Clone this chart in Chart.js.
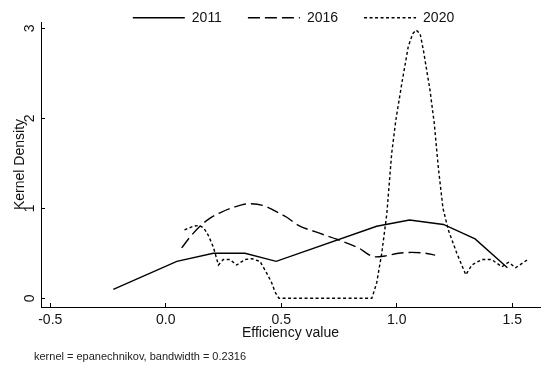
<!DOCTYPE html>
<html>
<head>
<meta charset="utf-8">
<script src="https://cdn.jsdelivr.net/npm/chart.js@4.4.1/dist/chart.umd.min.js"></script>
<style>
  html, body { margin: 0; padding: 0; background: #ffffff; }
  #wrap { width: 550px; height: 369px; }
</style>
</head>
<body>
<div id="wrap"><canvas id="c" width="550" height="369"></canvas></div>
<script>
// ---- data ----
const seriesNames = ['2011', '2016', '2020'];

const x2011 = [-0.227, 0.048, 0.206, 0.343, 0.478, 0.913, 1.055, 1.202, 1.339, 1.479];
const y2011 = [0.10, 0.41, 0.50, 0.50, 0.41, 0.80, 0.87, 0.82, 0.66, 0.34];

const x2016 = [0.069, 0.105, 0.148, 0.192, 0.235, 0.293, 0.358, 0.423, 0.473, 0.524, 0.574, 0.646, 0.747, 0.834, 0.906, 0.949, 1.007, 1.065, 1.123, 1.166];
const y2016 = [0.56, 0.68, 0.80, 0.89, 0.95, 1.01, 1.05, 1.03, 0.97, 0.90, 0.81, 0.74, 0.65, 0.56, 0.46, 0.47, 0.50, 0.51, 0.50, 0.48];

const x2020 = [0.081, 0.119, 0.145, 0.165, 0.184, 0.206, 0.228, 0.249, 0.278, 0.307, 0.343, 0.372, 0.408, 0.437, 0.459, 0.473, 0.490,
               0.892, 0.913, 0.935, 0.957, 0.978, 0.996, 1.022, 1.050, 1.069, 1.084, 1.101, 1.115, 1.144, 1.162, 1.180, 1.200, 1.223,
               1.260, 1.299, 1.325, 1.368, 1.411, 1.455, 1.483, 1.515, 1.567];
const y2020 = [0.76, 0.80, 0.81, 0.78, 0.70, 0.57, 0.37, 0.43, 0.43, 0.37, 0.43, 0.44, 0.41, 0.28, 0.17, 0.07, 0.00,
               0.00, 0.17, 0.50, 0.94, 1.61, 1.98, 2.39, 2.80, 2.94, 2.98, 2.94, 2.76, 2.31, 1.95, 1.45, 1.00, 0.76,
               0.50, 0.26, 0.37, 0.43, 0.43, 0.35, 0.40, 0.34, 0.43];

const xTicks = [-0.5, 0.0, 0.5, 1.0, 1.5];
const yTicks = [0, 1, 2, 3];
const xTitle = 'Efficiency value';
const yTitle = 'Kernel Density';
const noteText = 'kernel = epanechnikov, bandwidth = 0.2316';

// ---- chart ----
const FONT = "'Liberation Sans', Arial, Helvetica, sans-serif";
Chart.defaults.font.family = FONT;
Chart.defaults.color = '#111';

const toPts = (xs, ys) => xs.map((x, i) => ({ x: x, y: ys[i] }));

const layoutFix = {
  id: 'layoutFix',
  beforeLayout(chart) {
    const lg = chart.legend;
    if (lg && !lg._patchedFit) {
      const orig = lg.fit;
      lg.fit = function () { orig.call(this); this.height = 22; };
      lg._patchedFit = true;
    }
  },
  afterLayout(chart) {
    const lg = chart.legend;
    if (lg) {
      lg.top = -15.3; lg.bottom = 22; lg.height = lg.bottom - lg.top;
      lg.left += 3.0; lg.right += 3.0;
    }
  },
  afterDraw(chart) {
    const ctx = chart.ctx;
    ctx.save();
    ctx.font = '11px ' + FONT;
    ctx.fillStyle = '#222';
    ctx.textBaseline = 'alphabetic';
    ctx.textAlign = 'left';
    ctx.fillText(noteText, 34, 360);
    ctx.restore();
  }
};

const axisGrid = { drawOnChartArea: false, drawTicks: true, tickLength: -4, color: '#000', lineWidth: 1 };
const axisBorder = { display: true, color: '#000', width: 1 };

new Chart(document.getElementById('c'), {
  type: 'line',
  data: {
    datasets: [
      { label: seriesNames[0], data: toPts(x2011, y2011), borderColor: '#000', backgroundColor: '#000',
        borderWidth: 1.4, borderDash: [], pointRadius: 0, tension: 0, fill: false },
      { label: seriesNames[1], data: toPts(x2016, y2016), borderColor: '#000', backgroundColor: '#000',
        borderWidth: 1.4, borderDash: [12, 5], pointRadius: 0, cubicInterpolationMode: 'monotone', fill: false },
      { label: seriesNames[2], data: toPts(x2020, y2020), borderColor: '#000', backgroundColor: '#000',
        borderWidth: 1.4, borderDash: [3, 2.5], pointRadius: 0, tension: 0, fill: false }
    ]
  },
  options: {
    responsive: false,
    devicePixelRatio: 1,
    animation: false,
    events: [],
    layout: { padding: { top: 0, left: 0, right: 10, bottom: 0 } },
    plugins: {
      tooltip: { enabled: false },
      legend: {
        display: true,
        position: 'top',
        fullSize: false,
        labels: {
          font: { size: 14 }, color: '#111', padding: 26,
          usePointStyle: true, pointStyle: 'line', pointStyleWidth: 52,
          generateLabels: chart => {
            const items = Chart.defaults.plugins.legend.labels.generateLabels(chart);
            items.forEach(it => {
              const ds = chart.data.datasets[it.datasetIndex];
              it.lineDash = ds.borderDash;
              it.lineWidth = ds.borderWidth;
              it.strokeStyle = ds.borderColor;
              it.fillStyle = ds.borderColor;
              it.pointStyle = 'line';
            });
            return items;
          }
        }
      }
    },
    scales: {
      x: {
        type: 'linear', min: -0.54, max: 1.62,
        afterBuildTicks: s => { s.ticks = xTicks.map(v => ({ value: v })); },
        afterFit: s => { s.height = 62; },
        grid: axisGrid, border: axisBorder,
        ticks: { font: { size: 14 }, color: '#111', padding: 8.6, minRotation: 0, maxRotation: 0, autoSkip: false,
                 callback: v => Number(v).toFixed(1) },
        title: { display: true, text: xTitle, font: { size: 14 }, color: '#111', padding: { top: 0, bottom: 27.8 } }
      },
      y: {
        type: 'linear', min: -0.097, max: 3.07,
        afterBuildTicks: s => { s.ticks = yTicks.map(v => ({ value: v })); },
        afterFit: s => { s.width = 41; },
        grid: axisGrid, border: axisBorder,
        ticks: { font: { size: 14 }, color: '#111', padding: 11, minRotation: 90, maxRotation: 90, crossAlign: 'center',
                 autoSkip: false, callback: v => String(v) },
        title: { display: true, text: yTitle, font: { size: 14 }, color: '#111', padding: { top: 11.6, bottom: 0 } }
      }
    }
  },
  plugins: [layoutFix]
});
</script>
</body>
</html>
